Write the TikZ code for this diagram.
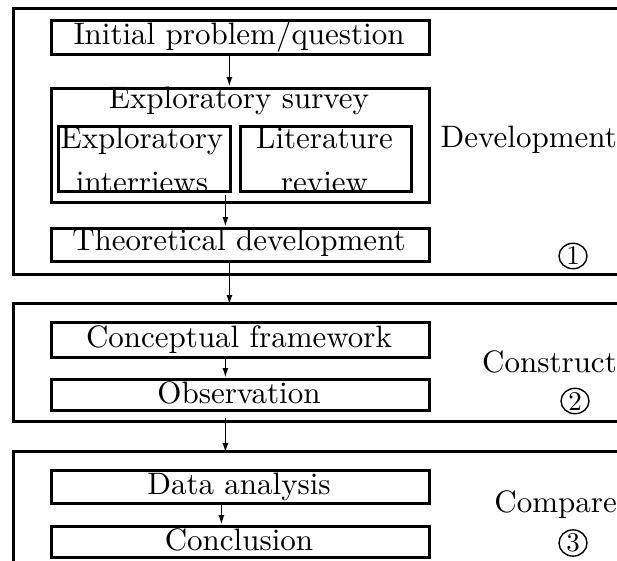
\documentclass[tikz,border=0pt]{standalone}
\usepackage{graphicx}
\usetikzlibrary{arrows.meta,shapes.geometric,calc}
% Computer Modern text set at 10pt and enlarged
\newcommand\bigtext[1]{\scalebox{3.1}{\fontsize{10}{12}\selectfont #1}}
\newcommand\numtext[1]{\scalebox{2.7}{\fontsize{10}{12}\selectfont #1}}

\begin{document}
\begin{tikzpicture}[x=1pt,y=-1pt,
  phase/.style={draw, line width=2.8pt, inner sep=0pt, anchor=north west},
  stepbox/.style={draw, line width=2.8pt, inner sep=0pt, anchor=north west, minimum width=378pt},
  subbox/.style={draw, line width=3.3pt, inner sep=0pt, anchor=north west},
  txt/.style={inner sep=0pt, anchor=base},
  side/.style={inner sep=0pt, anchor=base east},
  num/.style={draw, ellipse, line width=1.4pt, inner sep=0pt, minimum width=28pt, minimum height=22pt},
  arr/.style={line width=1.8pt, -{Latex[length=10pt,width=6pt]}}
]
\useasboundingbox (0,0) rectangle (617,560);
\clip (0,0) rectangle (617,560);

% phase frames
\node[phase, minimum width=640pt, minimum height=266pt] (phase1) at (12,7) {};
\node[phase, minimum width=640pt, minimum height=118pt] (phase2) at (12,302) {};
\node[phase, minimum width=640pt, minimum height=150pt] (phase3) at (12,450) {};

% phase 1 steps
\node[stepbox, minimum height=34pt] (init) at (50,19) {};
\node[stepbox, minimum height=114pt] (survey) at (50,87) {};
\node[subbox, minimum width=172pt, minimum height=65pt] (interviews) at (57,125) {};
\node[subbox, minimum width=171pt, minimum height=65pt] (literature) at (239,125) {};
\node[stepbox, minimum height=33pt] (theo) at (50,227) {};

% phase 2 steps
\node[stepbox, minimum height=35pt] (concept) at (50,321) {};
\node[stepbox, minimum height=31pt] (obs) at (50,378) {};

% phase 3 steps
\node[stepbox, minimum height=33pt] (data) at (50,469) {};
\node[stepbox, minimum height=31pt] (concl) at (50,525) {};

% texts
\node[txt] (tinit) at (239,44) {\bigtext{Initial problem/question}};
\node[txt] (tsurvey) at (239,108) {\bigtext{Exploratory survey}};
\node[txt] (tinta) at (142,148) {\bigtext{Exploratory}};
\node[txt] (tintb) at (142,192) {\bigtext{interriews}};
\node[txt] (tlita) at (324.5,148) {\bigtext{Literature}};
\node[txt] (tlitb) at (324.5,192) {\bigtext{review}};
\node[txt] (ttheo) at (239,250) {\bigtext{Theoretical development}};
\node[txt] (tconcept) at (239,347) {\bigtext{Conceptual framework}};
\node[txt] (tobs) at (239,403) {\bigtext{Observation}};
\node[txt] (tdata) at (239,494) {\bigtext{Data analysis}};
\node[txt] (tconcl) at (239,550) {\bigtext{Conclusion}};

% phase labels
\node[side] (ldev) at (617,147) {\bigtext{Development}};
\node[side] (lcon) at (617,372) {\bigtext{Construct}};
\node[side] (lcmp) at (617,512) {\bigtext{Compare}};
\node[num] (n1) at (573,256) {\numtext{1}};
\node[num] (n2) at (575,401) {\numtext{2}};
\node[num] (n3) at (573,543) {\numtext{3}};

% flow arrows
\draw[arr] ([xshift=-11pt]init.south) -- ([xshift=-11pt]survey.north);
\draw[arr] ([xshift=-15pt,yshift=9pt]survey.south) -- ([xshift=-15pt]theo.north);
\draw[arr] ([xshift=-11pt]theo.south) -- ($(theo.south |- phase2.north)+(-11,3)$);
\draw[arr] ([xshift=-15pt]concept.south) -- ([xshift=-15pt]obs.north);
\draw[arr] ($(obs.south)+(-15,6)$) -- ($(obs.south |- phase3.north)+(-15,3)$);
\draw[arr] ([xshift=-19pt]data.south) -- ([xshift=-19pt]concl.north);
\end{tikzpicture}
\end{document}
